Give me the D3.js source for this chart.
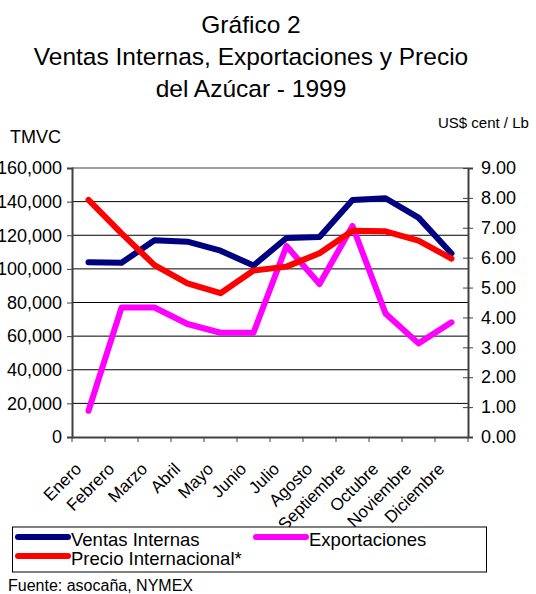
<!DOCTYPE html>
<html>
<head>
<meta charset="utf-8">
<title>Gráfico 2</title>
<script src="https://d3js.org/d3.v7.min.js"></script>
<style>
  body { margin: 0; background: #fff; }
  text { font-family: "Liberation Sans", Arial, sans-serif; fill: #000; }
</style>
</head>
<body>
<div id="vis"></div>
<script>
const months = ["Enero", "Febrero", "Marzo", "Abril", "Mayo", "Junio", "Julio",
  "Agosto", "Septiembre", "Octubre", "Noviembre", "Diciembre"];
const ventasInternas = [104000, 103600, 117000, 116200, 110800, 102000, 118400,
  119000, 141000, 142000, 130500, 109200];
const exportaciones = [15600, 77000, 77000, 67200, 62000, 62000, 113600,
  91000, 125500, 73500, 55700, 68200];
const precioInternacional = [7.93, 6.81, 5.75, 5.14, 4.81, 5.57, 5.70,
  6.15, 6.90, 6.88, 6.57, 5.97];
const leftTicks = [0, 20000, 40000, 60000, 80000, 100000, 120000, 140000, 160000];
const rightTicks = [0, 1, 2, 3, 4, 5, 6, 7, 8, 9];

const width = 536, height = 594;
const svg = d3.select("#vis").append("svg")
  .attr("width", width).attr("height", height);

const plot = { left: 72, right: 468, top: 168, bottom: 437 };

const x = d3.scaleBand().domain(months).range([plot.left, plot.right]);
const yL = d3.scaleLinear().domain([0, 160000]).range([plot.bottom, plot.top]);
const yR = d3.scaleLinear().domain([0, 9]).range([plot.bottom, plot.top]);

// titulos
const titles = ["Gráfico 2", "Ventas Internas, Exportaciones y Precio", "del Azúcar - 1999"];
svg.selectAll(".title").data(titles).enter().append("text")
  .attr("x", 251).attr("y", (d, i) => 33 + i * 32)
  .attr("text-anchor", "middle").style("font-size", "24.5px")
  .text(d => d);

svg.append("text").attr("x", 10).attr("y", 143).style("font-size", "18px").text("TMVC");
svg.append("text").attr("x", 438).attr("y", 128)
  .style("font-size", "15px").text("US$ cent / Lb");

// grid
svg.append("g").selectAll("line").data(leftTicks.slice(1, -1)).enter().append("line")
  .attr("x1", plot.left).attr("x2", plot.right)
  .attr("y1", d => yL(d)).attr("y2", d => yL(d))
  .attr("stroke", "#000").attr("stroke-width", 1);

svg.append("line").attr("x1", plot.left).attr("x2", plot.right)
  .attr("y1", plot.top).attr("y2", plot.top)
  .attr("stroke", "#808080").attr("stroke-width", 1.5);

// eje izquierdo
const axL = svg.append("g").attr("transform", `translate(${plot.left},0)`)
  .call(d3.axisLeft(yL).tickValues(leftTicks).tickSize(5).tickPadding(5)
    .tickFormat(d3.format(",")));
axL.select(".domain").attr("stroke", "#404040").attr("stroke-width", 2);
axL.selectAll(".tick line").attr("stroke", "#404040");
axL.selectAll("text").style("font-size", "18px").style("font-family", "Liberation Sans, Arial, sans-serif");

// eje derecho
const axR = svg.append("g").attr("transform", `translate(${plot.right},0)`)
  .call(d3.axisRight(yR).tickValues(rightTicks).tickSize(5).tickPadding(8)
    .tickFormat(d3.format(".2f")));
axR.select(".domain").attr("stroke", "#404040").attr("stroke-width", 2);
axR.selectAll(".tick line").attr("stroke", "#404040").attr("x1", -5);
axR.selectAll("text").style("font-size", "18px").style("font-family", "Liberation Sans, Arial, sans-serif");

// eje x
const axB = svg.append("g").attr("transform", `translate(0,${plot.bottom})`)
  .call(d3.axisBottom(x).tickSize(0).tickFormat(""));
axB.select(".domain").attr("stroke", "#404040").attr("stroke-width", 2);
const bounds = months.map(m => x(m)).concat([plot.right]);
axB.selectAll(".bt").data(bounds).enter().append("line")
  .attr("x1", d => d).attr("x2", d => d).attr("y1", 0).attr("y2", 5)
  .attr("stroke", "#404040");
axB.selectAll(".lbl").data(months).enter().append("text")
  .attr("text-anchor", "end")
  .attr("transform", d => `translate(${x(d) + x.bandwidth() / 2 - 6},${33}) rotate(-45)`)
  .style("font-size", "17px")
  .text(d => d);

// lineas
const cx = d => x(d) + x.bandwidth() / 2;
const lineL = d3.line().x((d, i) => cx(months[i])).y(d => yL(d));
const lineR = d3.line().x((d, i) => cx(months[i])).y(d => yR(d));

const series = [
  { values: ventasInternas, gen: lineL, color: "#000080" },
  { values: exportaciones, gen: lineL, color: "#ff00ff" },
  { values: precioInternacional, gen: lineR, color: "#ff0000" }
];
svg.append("g").selectAll("path").data(series).enter().append("path")
  .attr("d", d => d.gen(d.values))
  .attr("fill", "none").attr("stroke", d => d.color)
  .attr("stroke-width", 6).attr("stroke-linejoin", "round").attr("stroke-linecap", "round");

// leyenda
svg.append("rect").attr("x", 12.5).attr("y", 527).attr("width", 474).attr("height", 45)
  .attr("fill", "#fff").attr("stroke", "#000");
const legend = [
  { name: "Ventas Internas", color: "#000080", x: 18, y: 537 },
  { name: "Exportaciones", color: "#ff00ff", x: 256, y: 537 },
  { name: "Precio Internacional*", color: "#ff0000", x: 18, y: 556 }
];
const lg = svg.append("g").selectAll("g").data(legend).enter().append("g");
lg.append("line").attr("x1", d => d.x).attr("x2", d => d.x + 50)
  .attr("y1", d => d.y).attr("y2", d => d.y)
  .attr("stroke", d => d.color).attr("stroke-width", 6).attr("stroke-linecap", "round");
lg.append("text").attr("x", d => d.x + 53).attr("y", d => d.y + 8.5)
  .style("font-size", "18.5px").text(d => d.name);

svg.append("text").attr("x", 8).attr("y", 591).style("font-size", "16px")
  .text("Fuente: asocaña, NYMEX");
</script>
</body>
</html>
